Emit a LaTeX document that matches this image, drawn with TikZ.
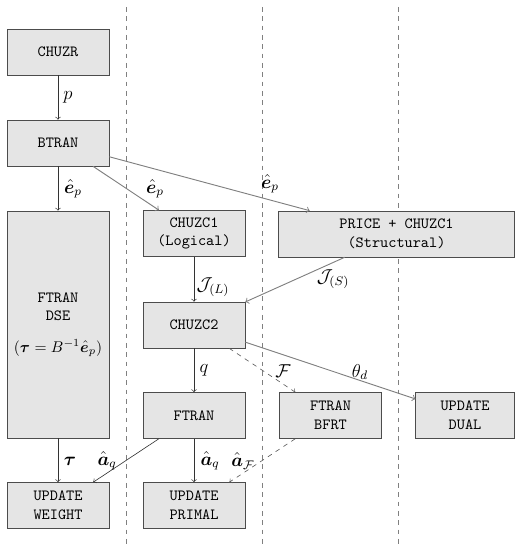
\documentclass[tikz,border=0pt]{standalone}
\usepackage{amsmath,amssymb,bm}
\begin{document}
\begin{tikzpicture}[x=0.643pt,y=-0.643pt,
  blk/.style={draw=black!70, fill=gray!20, font=\ttfamily, align=center, inner sep=0pt, minimum width=65.6pt, minimum height=29.6pt},
  arr/.style={->, draw=black!80},
  garr/.style={->, draw=gray, semithick},
  darr/.style={->, draw=black!65, dashed},
  lbl/.style={inner sep=0pt, font=\large},
  sepline/.style={draw=gray, dashed, thin}]
\useasboundingbox (0,0) rectangle (515,548);
% separators
\coordinate (s1t) at (126,7); \coordinate (s1b) at (126,548);
\coordinate (s2t) at (262,7); \coordinate (s2b) at (262,548);
\coordinate (s3t) at (398,7); \coordinate (s3b) at (398,548);
\draw[sepline] (s1t) -- (s1b);
\draw[sepline] (s2t) -- (s2b);
\draw[sepline] (s3t) -- (s3b);
% nodes
\node[blk] (chuzr) at (58,52) {CHUZR};
\node[blk] (btran) at (58,143) {BTRAN};
\node[blk, minimum height=146pt] (dse) at (58,324.5) {FTRAN\\DSE\\[8pt]$(\bm{\tau}=B^{-1}\hat{\bm{e}}_p)$};
\node[blk] (weight) at (58,505.5) {UPDATE\\WEIGHT};
\node[blk] (chuzc1) at (194,233.5) {CHUZC1\\(Logical)};
\node[blk] (chuzc2) at (194,325) {CHUZC2};
\node[blk] (ftran) at (194,415.5) {FTRAN};
\node[blk] (primal) at (194,505.5) {UPDATE\\PRIMAL};
\node[blk, minimum width=151.5pt] (price) at (396.5,234) {PRICE + CHUZC1\\(Structural)};
\node[blk] (bfrt) at (330.5,415.5) {FTRAN\\BFRT};
\node[blk, minimum width=63.3pt] (dual) at (465,415.5) {UPDATE\\DUAL};
% connectors
\draw[arr] (chuzr) -- (btran);
\draw[arr] (btran) -- (dse);
\draw[garr] (btran) -- (chuzc1);
\draw[garr] (btran) -- (price);
\draw[arr] (chuzc1) -- (chuzc2);
\draw[garr] (price) -- (chuzc2);
\draw[arr] (chuzc2) -- (ftran);
\draw[darr] (chuzc2) -- (bfrt);
\draw[garr] (chuzc2) -- (dual);
\draw[arr] (dse) -- (weight);
\draw[arr] (ftran) -- (weight);
\draw[arr] (ftran) -- (primal);
\draw[darr] (bfrt) -- (primal);
% labels
\node[lbl] (lp) at (68,97) {$p$};
\node[lbl] (le1) at (73,189) {$\hat{\bm{e}}_p$};
\node[lbl] (le2) at (155,189) {$\hat{\bm{e}}_p$};
\node[lbl] (le3) at (270,184) {$\hat{\bm{e}}_p$};
\node[lbl] (ljl) at (213,287) {$\mathcal{J}_{(L)}$};
\node[lbl] (ljs) at (333,279) {$\mathcal{J}_{(S)}$};
\node[lbl] (lq) at (204,370) {$q$};
\node[lbl] (lf) at (283,371) {$\mathcal{F}$};
\node[lbl] (lth) at (360,372) {$\theta_d$};
\node[lbl] (ltau) at (70,461) {$\bm{\tau}$};
\node[lbl] (laq1) at (107,461) {$\hat{\bm{a}}_q$};
\node[lbl] (laq2) at (210,461) {$\hat{\bm{a}}_q$};
\node[lbl] (laf) at (243,461) {$\hat{\bm{a}}_{\mathcal{F}}$};
\end{tikzpicture}
\end{document}
